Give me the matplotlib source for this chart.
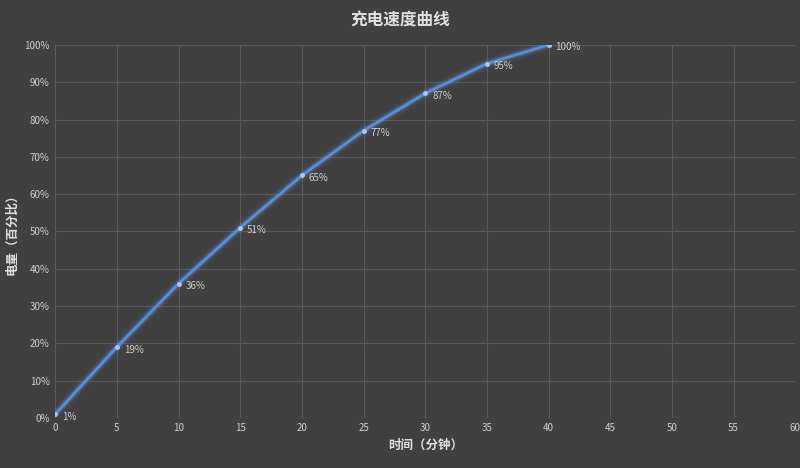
import matplotlib
matplotlib.use("Agg")
import matplotlib.pyplot as plt
from matplotlib.ticker import FuncFormatter, MultipleLocator

plt.rcParams['font.family'] = ['Noto Sans CJK SC', 'DejaVu Sans']

# ---- 数据 ----
minutes = [0, 5, 10, 15, 20, 25, 30, 35, 40]
battery = [1, 19, 36, 51, 65, 77, 87, 95, 100]

bg = "#404040"
fig = plt.figure(figsize=(8, 4.68), dpi=100, facecolor=bg)
ax = fig.add_axes([0.069, 0.107, 0.925, 0.797], facecolor=bg)

# 发光效果
for lw, a in [(8, 0.08), (5, 0.15), (3.5, 0.3)]:
    ax.plot(minutes, battery, color="#5b8fd8", linewidth=lw, alpha=a,
            solid_capstyle="round", solid_joinstyle="round")
ax.plot(minutes, battery, color="#5b8fd8", linewidth=1.8,
        solid_joinstyle="round")
ax.plot(minutes, battery, "o", color="#a8c8f0", markersize=2.5)

for x, y in zip(minutes, battery):
    ax.annotate(f"{y}%", (x, y), xytext=(5, -4), textcoords="offset points",
                color="#d0d0d0", fontsize=7)

ax.set_xlim(0, 60)
ax.set_ylim(0, 100)
ax.xaxis.set_major_locator(MultipleLocator(5))
ax.yaxis.set_major_locator(MultipleLocator(10))
ax.yaxis.set_major_formatter(FuncFormatter(lambda v, p: f"{int(v)}%"))
ax.grid(True, color="#5a5a5a", linewidth=0.8)
ax.set_axisbelow(True)
for s in ax.spines.values():
    s.set_visible(False)
ax.tick_params(colors="#d0d0d0", labelsize=7, length=0, pad=4)

ax.set_xlabel("时间（分钟）", color="#e0e0e0", fontsize=9, fontweight="bold")
ax.set_ylabel("电量（百分比）", color="#e0e0e0", fontsize=9, fontweight="bold")
fig.suptitle("充电速度曲线", color="#e0e0e0", fontsize=12, fontweight="bold", y=0.975)

fig.savefig("out.png", dpi=100, facecolor=bg)
